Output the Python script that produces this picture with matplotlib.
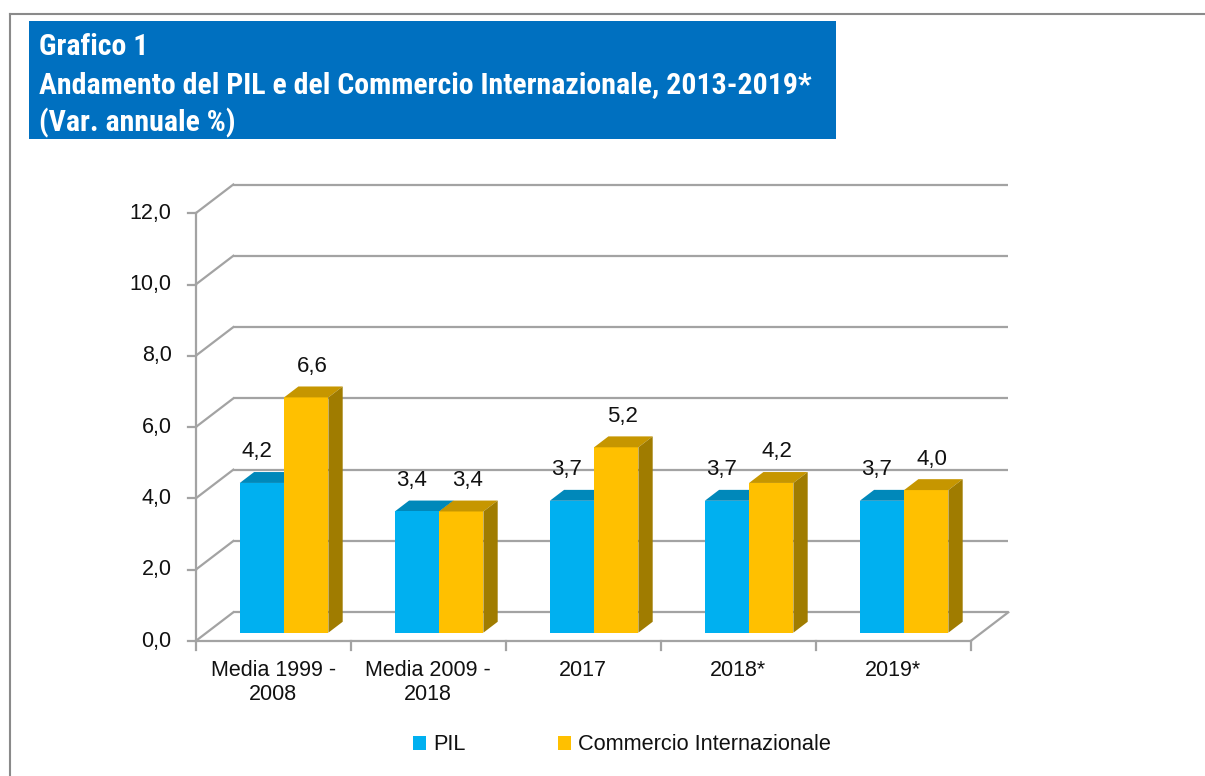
import matplotlib
matplotlib.use("Agg")
import matplotlib.pyplot as plt
from matplotlib.patches import Polygon, Rectangle, Patch
from matplotlib.lines import Line2D
from matplotlib import font_manager as fm

# ---------------- data ----------------
categories = ["Media 1999 -\n2008", "Media 2009 -\n2018", "2017", "2018*", "2019*"]
pil = [4.2, 3.4, 3.7, 3.7, 3.7]
commercio = [6.6, 3.4, 5.2, 4.2, 4.0]
series_names = ["PIL", "Commercio Internazionale"]
y_ticks = [0, 2, 4, 6, 8, 10, 12]
y_tick_labels = ["0,0", "2,0", "4,0", "6,0", "8,0", "10,0", "12,0"]
title_lines = ["Grafico 1",
               "Andamento del PIL e del Commercio Internazionale, 2013-2019*",
               "(Var. annuale %)"]

# ---------------- style ----------------
BLUE, BLUE_TOP, BLUE_SIDE = "#00B0F0", "#0088BA", "#00739E"
YEL, YEL_TOP, YEL_SIDE = "#FFC000", "#C69600", "#A07C00"
GRID = "#A3A3A3"
TXT = "#111111"

names = {f.name for f in fm.fontManager.ttflist}
BASE = "Liberation Sans" if "Liberation Sans" in names else "DejaVu Sans"
NARROW = BASE
for cand in ["Liberation Sans Narrow", "Arial Narrow", "Roboto Condensed",
             "Open Sans Condensed", "DejaVu Sans Condensed"]:
    if cand in names:
        NARROW = cand
        break

W, H, DPI = 1205, 776, 100
fig = plt.figure(figsize=(W / DPI, H / DPI), dpi=DPI)
fig.patch.set_facecolor("white")

# pixel geometry of the front plane
X0, PXU = 195.7, 155.0     # x pixel of front axis, px per category
Y0, PYU = 641.0, 35.65     # y pixel (from top) of value 0, px per unit

ax = fig.add_axes([0, 0, 1, 1])
ax.set_xlim(-X0 / PXU, (W - X0) / PXU)
ax.set_ylim(-(H - Y0) / PYU, Y0 / PYU)
ax.axis("off")

DX, DY = 37.6 / PXU, 28.7 / PYU      # full depth of the floor
f0, f1 = 0.29, 0.67                  # bar depth (front / back fraction)
ddx, ddy = (f1 - f0) * DX, (f1 - f0) * DY
w = 44.3 / PXU
n = len(categories)

# ---------------- walls / grid ----------------
for v in y_ticks:
    ax.plot([DX, n + DX], [v + DY, v + DY], color=GRID, lw=1.6, zorder=1, solid_capstyle="butt")
    ax.plot([0, DX], [v, v + DY], color=GRID, lw=1.6, zorder=1)
    ax.plot([-7.7 / PXU, 0], [v, v], color=GRID, lw=1.6, zorder=1)
ax.plot([0, 0], [0, y_ticks[-1]], color=GRID, lw=1.6, zorder=1)
ax.plot([0, n], [0, 0], color=GRID, lw=1.6, zorder=1)
ax.plot([n, n + DX], [0, DY], color=GRID, lw=1.6, zorder=1)
for i in range(n + 1):
    ax.plot([i, i], [0, -9 / PYU], color=GRID, lw=1.6, zorder=1)

# ---------------- bars ----------------
b = f0 * DY
xb = [i + 0.5 - w + f0 * DX for i in range(n)]
xy = [i + 0.5 + f0 * DX for i in range(n)]


def faces(L, h, top, side, z):
    ax.add_patch(Polygon([(L, b + h), (L + w, b + h), (L + w + ddx, b + h + ddy), (L + ddx, b + h + ddy)],
                         closed=True, facecolor=top, edgecolor="none", zorder=z))
    ax.add_patch(Polygon([(L + w, b), (L + w + ddx, b + ddy), (L + w + ddx, b + h + ddy), (L + w, b + h)],
                         closed=True, facecolor=side, edgecolor="none", zorder=z))


for L, h in zip(xb, pil):
    faces(L, h, BLUE_TOP, BLUE_SIDE, 3)
ax.bar(xb, pil, width=w, bottom=b, align="edge", color=BLUE, zorder=3.5, linewidth=0)
ax.bar(xy, commercio, width=w, bottom=b, align="edge", color=YEL, zorder=4, linewidth=0)
for L, h in zip(xy, commercio):
    faces(L, h, YEL_TOP, YEL_SIDE, 4)


def fmt(v):
    return f"{v:.1f}".replace(".", ",")


for L, h in zip(xb, pil):
    ax.annotate(fmt(h), xy=(L + w / 2, b + h), xytext=(-5, 31), textcoords="offset pixels",
                ha="center", va="center", fontsize=16, family=BASE, color=TXT, zorder=6)
for L, h in zip(xy, commercio):
    ax.annotate(fmt(h), xy=(L + w / 2, b + h), xytext=(6, 31), textcoords="offset pixels",
                ha="center", va="center", fontsize=16, family=BASE, color=TXT, zorder=6)

# ---------------- axis labels ----------------
for v, lab in zip(y_ticks, y_tick_labels):
    ax.annotate(lab, xy=(0, v), xytext=(-24, 0), textcoords="offset pixels",
                ha="right", va="center", fontsize=15.5, family=BASE, color=TXT)
for i, cat in enumerate(categories):
    ax.annotate(cat, xy=(i + 0.5, 0), xytext=(0, -19), textcoords="offset pixels",
                ha="center", va="top", multialignment="center", linespacing=1.2,
                fontsize=15.5, family=BASE, color=TXT)

# ---------------- legend ----------------
handles = [Patch(facecolor=BLUE, edgecolor="none"), Patch(facecolor=YEL, edgecolor="none")]
leg = ax.legend(handles, series_names, ncol=2, frameon=False, loc="center",
                bbox_to_anchor=(622 / W, 1 - 745 / H), bbox_transform=fig.transFigure,
                handlelength=0.6, handleheight=0.6, handletextpad=0.35, columnspacing=4.2,
                prop={"family": BASE, "size": 15.7}, borderpad=0, borderaxespad=0)
for t in leg.get_texts():
    t.set_color(TXT)

# ---------------- frame lines & title box ----------------
fig.add_artist(Line2D([10 / W, 1], [1 - 14 / H, 1 - 14 / H], transform=fig.transFigure,
                      color="#8A8A8A", lw=1.5))
fig.add_artist(Line2D([10 / W, 10 / W], [0, 1 - 14 / H], transform=fig.transFigure,
                      color="#8A8A8A", lw=1.5))
fig.add_artist(Rectangle((29 / W, 1 - 139 / H), (836 - 29) / W, (139 - 21) / H,
                         transform=fig.transFigure, facecolor="#0070C0", edgecolor="none"))

baselines = [55, 93.5, 131]
title_texts = []
for line, yb in zip(title_lines, baselines):
    t = fig.text(39 / W, 1 - yb / H, line, ha="left", va="baseline", color="white",
                 fontsize=20, fontweight="bold", family=NARROW)
    title_texts.append(t)

renderer = fig.canvas.get_renderer()
target = 826 - 39
wid = title_texts[1].get_window_extent(renderer).width
s = min(20 * target / wid, 21.5)
for t in title_texts:
    t.set_fontsize(s)

fig.savefig("out.png", dpi=DPI, facecolor="white")
